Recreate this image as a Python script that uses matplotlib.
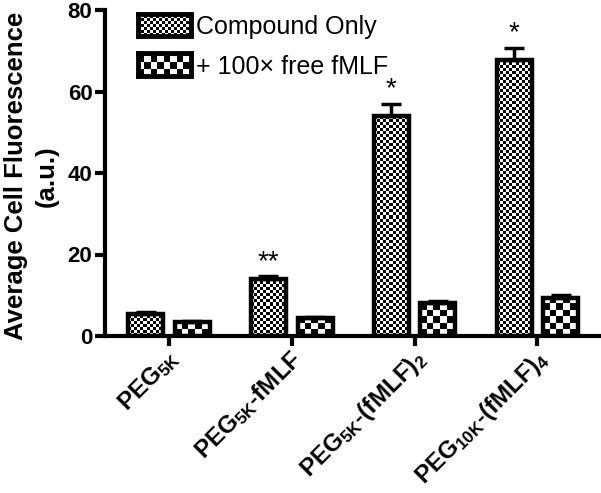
import numpy as np
import matplotlib
matplotlib.use("Agg")
import matplotlib.pyplot as plt
import matplotlib.transforms as mtrans

plt.rcParams['font.family'] = ['Liberation Sans', 'DejaVu Sans']
plt.rcParams['mathtext.fontset'] = 'custom'
plt.rcParams['mathtext.rm'] = 'Liberation Sans:bold'
plt.rcParams['mathtext.it'] = 'Liberation Sans:bold'
plt.rcParams['mathtext.bf'] = 'Liberation Sans:bold'
plt.rcParams['mathtext.default'] = 'rm'

# ---- data ----
categories = ['PEG$_{5K}$', 'PEG$_{5K}$-fMLF', 'PEG$_{5K}$-(fMLF)$_2$', 'PEG$_{10K}$-(fMLF)$_4$']
series_names = ['Compound Only', '+ 100\u00d7 free fMLF']
compound_only = [5.5, 14.0, 54.0, 67.8]
compound_err = [0.3, 0.7, 3.0, 2.9]
free_fmlf = [3.4, 4.4, 8.0, 9.3]
free_err = [0.2, 0.3, 0.7, 0.8]
significance = ['', '**', '*', '*']
yticks = [0, 20, 40, 60, 80]

W, H = 601, 493
fig = plt.figure(figsize=(W / 100, H / 100), dpi=100)
ax = fig.add_axes([105 / W, (H - 336) / H, 495 / W, 326 / H])
ax.set_xlim(-0.52, 3.51)
ax.set_ylim(0, 80)
ax.set_autoscale_on(False)

x = np.arange(len(categories))
bw = 0.285
off = 0.19


def checker(ax, patch, cell):
    x0, w = patch.get_x(), patch.get_width()
    y0, h = patch.get_y(), patch.get_height()
    (px0, py0) = ax.transData.transform((x0, y0))
    (px1, py1) = ax.transData.transform((x0 + w, y0 + h))
    nx = int(np.ceil((px1 - px0) / cell)) + 1
    ny = int(np.ceil((py1 - py0) / cell)) + 1
    arr = (np.add.outer(np.arange(ny), np.arange(nx)) % 2).astype(float)
    dx = w / (px1 - px0) * cell
    dy = h / (py1 - py0) * cell if h > 0 else 0
    im = ax.imshow(arr, cmap='gray', vmin=0, vmax=1, interpolation='nearest',
                   extent=(x0, x0 + nx * dx, y0, y0 + ny * dy), origin='lower',
                   aspect='auto', zorder=2)
    im.set_clip_path(patch)


b1 = ax.bar(x - off, compound_only, bw, facecolor='none', edgecolor='black', linewidth=3.2, zorder=3)
b2 = ax.bar(x + off, free_fmlf, bw, facecolor='none', edgecolor='black', linewidth=3.2, zorder=3)
for p in b1:
    checker(ax, p, 3)
for p in b2:
    checker(ax, p, 6.5)
ax.set_xlim(-0.52, 3.51)
ax.set_ylim(0, 80)

ax.errorbar(x - off, compound_only, yerr=[np.zeros(4), compound_err], fmt='none',
            ecolor='black', elinewidth=2.5, capsize=7, capthick=2.5, zorder=4)
ax.errorbar(x + off, free_fmlf, yerr=[np.zeros(4), free_err], fmt='none',
            ecolor='black', elinewidth=2.5, capsize=7, capthick=2.5, zorder=4)

for xi, v, e, s in zip(x - off, compound_only, compound_err, significance):
    if s:
        ax.annotate(s, (xi, v + e), xytext=(0, 1), textcoords='offset points',
                    ha='center', va='bottom', fontsize=20)

for sp in ['top', 'right']:
    ax.spines[sp].set_visible(False)
for sp in ['left', 'bottom']:
    ax.spines[sp].set_linewidth(3)

ax.set_yticks(yticks)
ax.set_yticklabels([str(t) for t in yticks], fontsize=16, fontweight='bold')
ax.tick_params(axis='both', width=3, length=7, direction='out')
ax.tick_params(axis='y', pad=2)
ax.set_xticks(x)
ax.set_xticklabels(categories, fontsize=17.5, fontweight='bold', rotation=45,
                   ha='right', va='top', rotation_mode='anchor')
for lab in ax.get_xticklabels():
    lab.set_transform(lab.get_transform() + mtrans.ScaledTranslation(-2 / 100, 5 / 100, fig.dpi_scale_trans))

fig.text(31.5 / W, 1 - 176 / H, 'Average Cell Fluorescence\n(a.u.)', rotation=90,
         ha='center', va='center', multialignment='center', fontsize=18.5,
         fontweight='bold', linespacing=1.35)

# legend (manual swatches)
def swatch(y_top, y_bot, cell, label):
    sa = fig.add_axes([138 / W, 1 - y_bot / H, 53 / W, (y_bot - y_top) / H])
    nx = int(np.ceil(53 / cell)) + 1
    ny = int(np.ceil((y_bot - y_top) / cell)) + 1
    arr = (np.add.outer(np.arange(ny), np.arange(nx)) % 2).astype(float)
    sa.imshow(arr, cmap='gray', vmin=0, vmax=1, interpolation='nearest',
              extent=(0, nx * cell, 0, ny * cell), origin='lower', aspect='auto')
    sa.set_xlim(0, 53)
    sa.set_ylim(0, y_bot - y_top)
    sa.set_xticks([])
    sa.set_yticks([])
    for sp in sa.spines.values():
        sp.set_linewidth(3.5)
    fig.text(196 / W, 1 - ((y_top + y_bot) / 2 + 2) / H, label, ha='left', va='center', fontsize=18)

swatch(14, 36, 3, series_names[0])
swatch(53, 76, 6.5, series_names[1])

fig.savefig('out.png', dpi=100)
